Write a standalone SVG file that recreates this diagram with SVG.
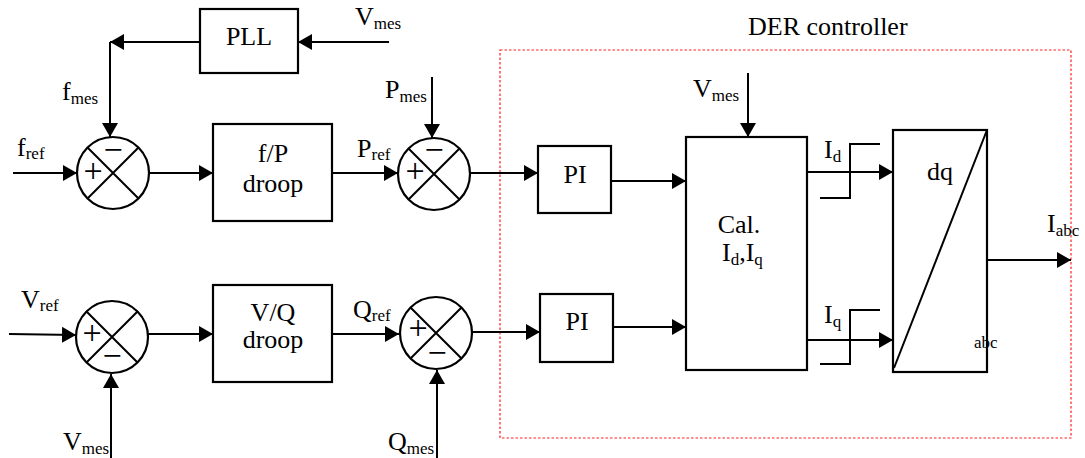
<svg xmlns="http://www.w3.org/2000/svg" width="1085" height="458" viewBox="0 0 1085 458">
<defs>
<marker id="arr" markerUnits="userSpaceOnUse" viewBox="0 0 14 16" refX="14" refY="8" markerWidth="14" markerHeight="16" orient="auto">
<path d="M0,0 L14,8 L0,16 z" fill="#000"/>
</marker>
<style>
.box{fill:#fff;stroke:#000;stroke-width:2.2}
.ln{fill:none;stroke:#000;stroke-width:2}
.ar{fill:none;stroke:#000;stroke-width:2;marker-end:url(#arr)}
.der{fill:none;stroke:#ff2020;stroke-width:1.2;stroke-dasharray:2.5,2}
</style>
</defs>
<rect width="1085" height="458" fill="#fff"/>

<g id="der-controller">
<rect class="der" x="500" y="50" width="571" height="388"/>
<text font-family="Liberation Serif" font-size="26" x="748" y="35">DER controller</text>
</g>

<g id="connectors">
<path class="ar" d="M389,42 L298,42"/>
<path class="ar" d="M200,42 L110,42"/>
<path class="ar" d="M110,42 L110,137"/>
<path class="ar" d="M13,173 L77,173"/>
<path class="ar" d="M149,173 L213,173"/>
<path class="ar" d="M332,173 L398,173"/>
<path class="ar" d="M432,77 L432,138"/>
<path class="ar" d="M470,173 L538,173"/>
<path class="ar" d="M611,181 L686,181"/>
<path class="ar" d="M748,73 L748,137"/>
<path class="ar" d="M807,172 L893,172"/>
<path class="ar" d="M807,340 L893,340"/>
<path class="ar" d="M987,260 L1071,260"/>
<path class="ar" d="M9,334 L76,335"/>
<path class="ar" d="M111,458 L111,374"/>
<path class="ar" d="M147,334 L213,334"/>
<path class="ar" d="M332,334 L399,334"/>
<path class="ar" d="M437,458 L437,370"/>
<path class="ar" d="M472,332 L540,332"/>
<path class="ar" d="M613,327 L686,327"/>
<path class="ln" d="M820,198 L850,198 L850,144 L880,144"/>
<path class="ln" d="M820,364 L850,364 L850,310 L880,310"/>
</g>

<g id="labels">
<text font-family="Liberation Serif" font-size="26" x="355" y="25">V<tspan font-size="17" dy="4">mes</tspan></text>
<text font-family="Liberation Serif" font-size="26" x="62" y="100">f<tspan font-size="17" dy="4">mes</tspan></text>
<text font-family="Liberation Serif" font-size="26" x="17" y="156">f<tspan font-size="17" dy="3">ref</tspan></text>
<text font-family="Liberation Serif" font-size="26" x="357" y="157">P<tspan font-size="17" dy="3">ref</tspan></text>
<text font-family="Liberation Serif" font-size="26" x="385" y="98">P<tspan font-size="17" dy="4">mes</tspan></text>
<text font-family="Liberation Serif" font-size="26" x="693" y="97">V<tspan font-size="17" dy="4">mes</tspan></text>
<text font-family="Liberation Serif" font-size="26" x="824" y="158">I<tspan font-size="17" dy="4">d</tspan></text>
<text font-family="Liberation Serif" font-size="26" x="824" y="323">I<tspan font-size="17" dy="4">q</tspan></text>
<text font-family="Liberation Serif" font-size="26" x="1047" y="232">I<tspan font-size="17" dy="4">abc</tspan></text>
<text font-family="Liberation Serif" font-size="26" x="21" y="308">V<tspan font-size="17" dy="3">ref</tspan></text>
<text font-family="Liberation Serif" font-size="26" x="63" y="450">V<tspan font-size="17" dy="4">mes</tspan></text>
<text font-family="Liberation Serif" font-size="26" x="353" y="318">Q<tspan font-size="17" dy="3">ref</tspan></text>
<text font-family="Liberation Serif" font-size="26" x="388" y="450">Q<tspan font-size="17" dy="4">mes</tspan></text>
</g>

<g id="pll">
<rect class="box" x="200" y="9" width="98" height="64"/>
<text font-family="Liberation Serif" font-size="26" x="249" y="45" text-anchor="middle">PLL</text>
</g>

<g id="sum-f">
<circle class="box" cx="113" cy="173" r="36"/>
<path class="ln" d="M87.5,147.5 L138.5,198.5 M138.5,147.5 L87.5,198.5"/>
<text font-family="Liberation Serif" font-size="34" x="93" y="182" text-anchor="middle">+</text>
<text font-family="Liberation Serif" font-size="34" x="113" y="161" text-anchor="middle">−</text>
</g>

<g id="fp-droop">
<rect class="box" x="213" y="124" width="119" height="97"/>
<text font-family="Liberation Serif" font-size="26" x="273" y="162" text-anchor="middle">f/P</text>
<text font-family="Liberation Serif" font-size="26" x="273" y="192" text-anchor="middle">droop</text>
</g>

<g id="sum-p">
<circle class="box" cx="434" cy="174" r="36"/>
<path class="ln" d="M408.5,148.5 L459.5,199.5 M459.5,148.5 L408.5,199.5"/>
<text font-family="Liberation Serif" font-size="34" x="415" y="182" text-anchor="middle">+</text>
<text font-family="Liberation Serif" font-size="34" x="434" y="161" text-anchor="middle">−</text>
</g>

<g id="pi-p">
<rect class="box" x="538" y="146" width="73" height="67"/>
<text font-family="Liberation Serif" font-size="26" x="575" y="183" text-anchor="middle">PI</text>
</g>

<g id="sum-v">
<circle class="box" cx="112" cy="337" r="36"/>
<path class="ln" d="M86.5,311.5 L137.5,362.5 M137.5,311.5 L86.5,362.5"/>
<text font-family="Liberation Serif" font-size="34" x="92" y="344" text-anchor="middle">+</text>
<text font-family="Liberation Serif" font-size="34" x="112" y="367" text-anchor="middle">−</text>
</g>

<g id="vq-droop">
<rect class="box" x="213" y="285" width="119" height="97"/>
<text font-family="Liberation Serif" font-size="26" x="273" y="321" text-anchor="middle">V/Q</text>
<text font-family="Liberation Serif" font-size="26" x="273" y="348" text-anchor="middle">droop</text>
</g>

<g id="sum-q">
<circle class="box" cx="436" cy="333" r="36"/>
<path class="ln" d="M410.5,307.5 L461.5,358.5 M461.5,307.5 L410.5,358.5"/>
<text font-family="Liberation Serif" font-size="34" x="418" y="339" text-anchor="middle">+</text>
<text font-family="Liberation Serif" font-size="34" x="437" y="364" text-anchor="middle">−</text>
</g>

<g id="pi-q">
<rect class="box" x="540" y="294" width="73" height="68"/>
<text font-family="Liberation Serif" font-size="26" x="577" y="330" text-anchor="middle">PI</text>
</g>

<g id="cal">
<rect class="box" x="686" y="137" width="121" height="233"/>
<text font-family="Liberation Serif" font-size="26" x="739" y="233" text-anchor="middle">Cal.</text>
<text font-family="Liberation Serif" font-size="26" x="722" y="261">I<tspan font-size="17" dy="4">d</tspan><tspan dy="-4">,I</tspan><tspan font-size="17" dy="4">q</tspan></text>
</g>

<g id="dq-abc">
<rect class="box" x="893" y="130" width="94" height="242"/>
<path class="ln" d="M987,130 L894,368"/>
<text font-family="Liberation Serif" font-size="26" x="940" y="180" text-anchor="middle">dq</text>
<text font-family="Liberation Serif" font-size="17" x="974" y="348">abc</text>
</g>
</svg>
